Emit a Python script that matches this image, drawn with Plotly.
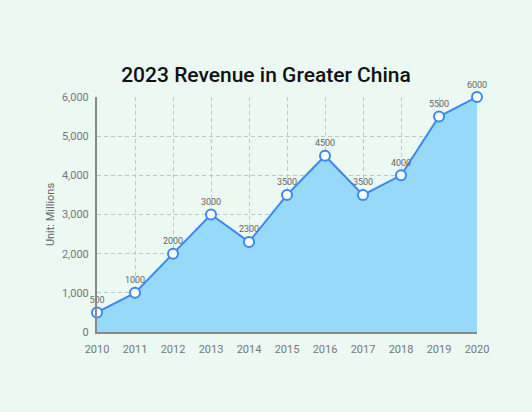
import plotly.graph_objects as go

years = [2010, 2011, 2012, 2013, 2014, 2015, 2016, 2017, 2018, 2019, 2020]
revenue = [500, 1000, 2000, 3000, 2300, 3500, 4500, 3500, 4000, 5500, 6000]

fig = go.Figure()
fig.add_trace(go.Scatter(
    x=years, y=revenue, mode='lines+markers+text',
    fill='tozeroy', fillcolor='#97D9F8',
    line=dict(color='#3A88F2', width=2),
    marker=dict(size=10, color='white', line=dict(color='#3A88F2', width=2)),
    text=[str(v) for v in revenue], textposition='top center',
    textfont=dict(size=9, color='#666666', family='Roboto'),
    cliponaxis=False, hoverinfo='x+y'
))

fig.update_layout(
    width=532, height=412,
    paper_bgcolor='#EBF9F2', plot_bgcolor='#EBF9F2',
    margin=dict(l=97, r=55, t=97, b=80),
    showlegend=False,
    title=dict(text='2023 Revenue in Greater China', x=0.5, xanchor='center',
               y=0.818, yanchor='middle',
               font=dict(size=21, color='#111111', family='Roboto', weight=500)),
    font=dict(family='Roboto', color='#777777', size=11),
)
fig.update_xaxes(
    range=[2010, 2020], tickmode='array', tickvals=years,
    showgrid=True, gridcolor='#C2C8C6', griddash='4px,3px', gridwidth=1,
    showline=True, linecolor='#888888', linewidth=2,
    ticks='', zeroline=False, ticklabelstandoff=6,
)
fig.update_yaxes(
    range=[0, 6000], dtick=1000, tickformat=',',
    showgrid=True, gridcolor='#C2C8C6', griddash='4px,3px', gridwidth=1,
    showline=True, linecolor='#888888', linewidth=2,
    ticks='', zeroline=False, ticklabelstandoff=4,
    title=dict(text='Unit: Millions', font=dict(size=11, color='#666666'), standoff=5),
)

fig.write_html("out.html", config={'displayModeBar': False},
               post_script="document.body.style.margin='0';")
